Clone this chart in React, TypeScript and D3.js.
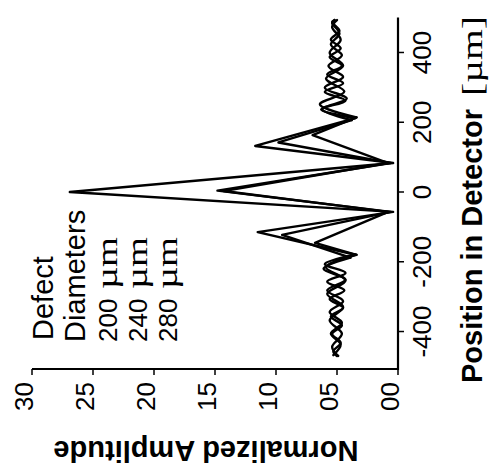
import React from "react";
import * as d3 from "d3";

// ---- data ----
const legendTitle = ["Defect", "Diameters"];
const seriesNames = ["200", "240", "280"];
const unitLabel = "µm";
const positionTicks = [-400, -200, 0, 200, 400];
const amplitudeTicks = [0, 5, 10, 15, 20, 25, 30];

// 200 µm
const pos200 = [-470, -444, -406, -368, -330, -292, -254, -216, -180, -146, -57, 3, 83, 163, 214, 251, 288, 325, 362, 399, 436, 473, 493];
const amp200 = [4.9, 5.4, 4.6, 5.6, 4.5, 5.8, 4.3, 5.9, 3.4, 6.8, 0.8, 14.3, 0.8, 7.0, 3.4, 6.4, 4.4, 5.9, 4.5, 5.6, 4.7, 5.4, 5.0];
const core200 = [-180, 214];

// 240 µm
const pos240 = [-468, -437, -406, -375, -344, -313, -282, -251, -220, -188, -123, -57, 4, 83, 142, 206, 237, 268, 299, 330, 361, 392, 423, 454, 485, 493];
const amp240 = [5.3, 4.7, 5.5, 4.6, 5.6, 4.5, 5.8, 4.3, 6.1, 3.9, 9.5, 0.6, 14.8, 0.6, 9.8, 3.8, 6.2, 4.2, 6.0, 4.5, 5.7, 4.6, 5.5, 4.8, 5.4, 5.2];
const core240 = [-188, 206];

// 280 µm
const pos280 = [-470, -457, -432, -407, -382, -357, -332, -307, -282, -257, -232, -207, -180, -115, -57, 0, 83, 132, 212, 237, 262, 287, 312, 337, 362, 387, 412, 437, 462, 487, 493];
const amp280 = [5.0, 5.3, 4.7, 5.4, 4.6, 5.5, 4.5, 5.6, 4.4, 5.8, 4.3, 6.0, 3.5, 11.5, 0.4, 26.9, 0.4, 11.7, 3.5, 6.3, 4.3, 6.0, 4.5, 5.8, 4.6, 5.6, 4.7, 5.5, 4.8, 5.4, 5.2];
const core280 = [-180, 212];

const series = [
  { name: seriesNames[0], pos: pos200, amp: amp200, core: core200 },
  { name: seriesNames[1], pos: pos240, amp: amp240, core: core240 },
  { name: seriesNames[2], pos: pos280, amp: amp280, core: core280 },
];

// ---- layout ----
const W = 491;
const H = 471;
const SANS = "'Liberation Sans', Arial, Helvetica, sans-serif";
const SERIF = "'Liberation Serif', 'Times New Roman', serif";

const yPos = d3.scaleLinear().domain([-500, 500]).range([366.4, 17.6]);
const xAmp = d3.scaleLinear().domain([0, 30]).range([398, 32]);

const axisX = xAmp(0);
const axisY = 369;

type P = [number, number];

const lineStraight = d3
  .line<P>()
  .x((d) => xAmp(d[1]))
  .y((d) => yPos(d[0]))
  .curve(d3.curveLinear);
const lineSmooth = d3
  .line<P>()
  .x((d) => xAmp(d[1]))
  .y((d) => yPos(d[0]))
  .curve(d3.curveCatmullRom.alpha(0.5));

function paths(pos: number[], amp: number[], core: number[]) {
  const pts: P[] = pos.map((p, i) => [p, amp[i]]);
  const low = pts.filter((d) => d[0] <= core[0]);
  const mid = pts.filter((d) => d[0] >= core[0] && d[0] <= core[1]);
  const high = pts.filter((d) => d[0] >= core[1]);
  return [lineSmooth(low) || "", lineStraight(mid) || "", lineSmooth(high) || ""];
}

const legendBaselines = [53, 85, 117, 147, 177];

export default function App() {
  return (
    <svg
      width={W}
      height={H}
      viewBox={`0 0 ${W} ${H}`}
      style={{ position: "absolute", left: 0, top: 0, background: "#fff" }}
    >
      <rect x={0} y={0} width={W} height={H} fill="#fff" />

      {/* curves */}
      <g fill="none" stroke="#000" strokeWidth={2.4} strokeLinejoin="round" strokeLinecap="round">
        {series.map((s) =>
          paths(s.pos, s.amp, s.core).map((d, i) => <path key={s.name + i} d={d} />)
        )}
      </g>

      {/* position axis (vertical, right) */}
      <line x1={axisX} x2={axisX} y1={yPos(500)} y2={axisY + 1} stroke="#000" strokeWidth={2.2} />
      {positionTicks.map((t) => (
        <g key={"p" + t}>
          <line x1={axisX} x2={axisX + 6} y1={yPos(t)} y2={yPos(t)} stroke="#000" strokeWidth={1.5} />
          <text
            transform={`translate(${431},${yPos(t)}) rotate(-90)`}
            textAnchor="middle"
            fontFamily={SANS}
            fontSize={26}
            fill="#000"
          >
            {String(t)}
          </text>
        </g>
      ))}

      {/* amplitude axis (horizontal, bottom) */}
      <line x1={xAmp(30)} x2={axisX + 1} y1={axisY} y2={axisY} stroke="#000" strokeWidth={2.2} />
      {amplitudeTicks.map((t) => (
        <g key={"a" + t}>
          <line x1={xAmp(t)} x2={xAmp(t)} y1={axisY} y2={axisY + 6} stroke="#000" strokeWidth={1.5} />
          <text
            transform={`translate(${xAmp(t) + 1},${382}) rotate(-90)`}
            textAnchor="end"
            fontFamily={SANS}
            fontSize={26}
            fill="#000"
          >
            {d3.format("02d")(t)}
          </text>
        </g>
      ))}

      {/* axis titles */}
      <g transform={`translate(482,383) rotate(-90)`}>
        <text x={0} y={0} fontFamily={SANS} fontWeight="bold" fontSize={29} fill="#000">
          Position in Detector
        </text>
        <text
          x={287}
          y={0}
          fontFamily={SERIF}
          fontSize={30}
          fill="#000"
          textLength={80}
          lengthAdjust="spacingAndGlyphs"
        >
          [{unitLabel}]
        </text>
      </g>
      <text
        transform={`translate(206,441) rotate(180)`}
        textAnchor="middle"
        fontFamily={SANS}
        fontWeight="bold"
        fontSize={29}
        fill="#000"
      >
        Normalized Amplitude
      </text>

      {/* legend */}
      {legendTitle.map((t, i) => (
        <text
          key={t}
          transform={`translate(${legendBaselines[i]},${i === 0 ? 340 : 342}) rotate(-90)`}
          fontFamily={SANS}
          fontSize={29}
          fill="#000"
        >
          {t}
        </text>
      ))}
      {seriesNames.map((n, i) => (
        <g key={n} transform={`translate(${legendBaselines[i + 2]},342) rotate(-90)`}>
          <text x={0} y={0} fontFamily={SANS} fontSize={26} fill="#000">
            {n}
          </text>
          <text
            x={53}
            y={0}
            fontFamily={SERIF}
            fontSize={29}
            fill="#000"
            textLength={52}
            lengthAdjust="spacingAndGlyphs"
          >
            {unitLabel}
          </text>
        </g>
      ))}
    </svg>
  );
}
